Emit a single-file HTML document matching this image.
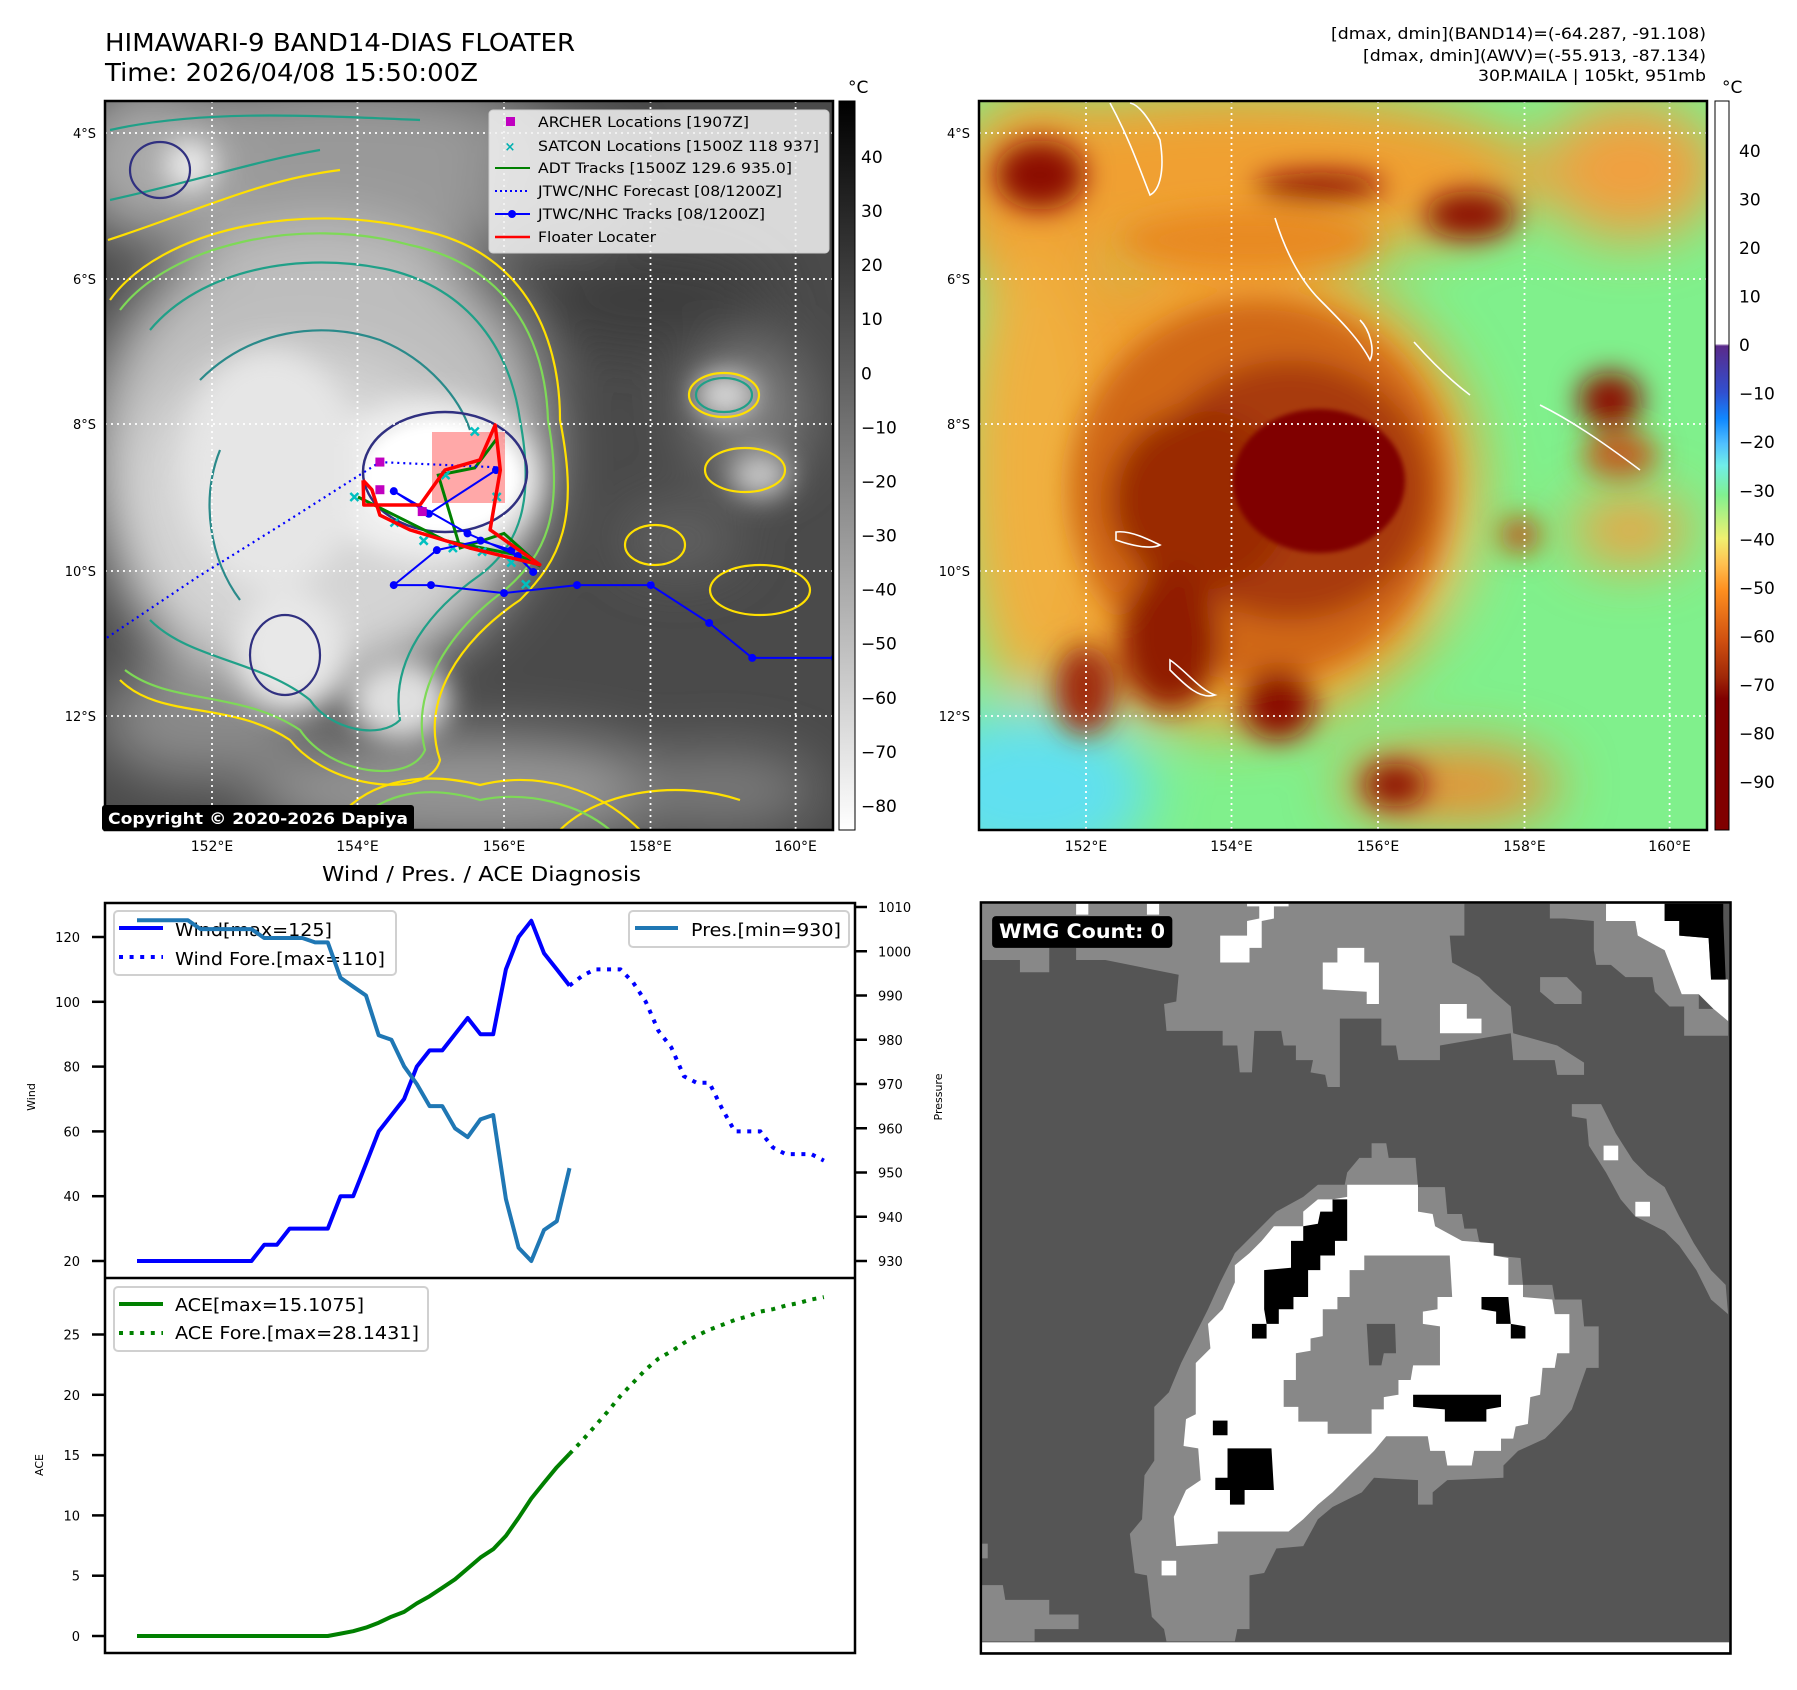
<!DOCTYPE html>
<html><head><meta charset="utf-8">
<style>
html,body{margin:0;padding:0;background:#fff;}
svg{display:block;font-family:"DejaVu Sans","Liberation Sans",sans-serif;}
</style></head>
<body>
<svg id="fig" xmlns="http://www.w3.org/2000/svg" width="1797" height="1690" viewBox="0 0 1797 1690">
<defs>
  <filter id="b30" x="-50%" y="-50%" width="200%" height="200%"><feGaussianBlur stdDeviation="28"/></filter>
  <filter id="b15" x="-50%" y="-50%" width="200%" height="200%"><feGaussianBlur stdDeviation="14"/></filter>
  <filter id="b6" x="-50%" y="-50%" width="200%" height="200%"><feGaussianBlur stdDeviation="5"/></filter>
  <filter id="b3" x="-50%" y="-50%" width="200%" height="200%"><feGaussianBlur stdDeviation="2.5"/></filter>
  <clipPath id="clipL"><rect x="105" y="101" width="728" height="729"/></clipPath>
  <clipPath id="clipR"><rect x="979" y="101" width="728" height="729"/></clipPath>
  <linearGradient id="cbGray" x1="0" y1="0" x2="0" y2="1">
    <stop offset="0" stop-color="#000"/><stop offset="1" stop-color="#fff"/>
  </linearGradient>
  <linearGradient id="cbColor" x1="0" y1="0" x2="0" y2="1">
    <stop offset="0" stop-color="#ffffff"/>
    <stop offset="0.333" stop-color="#ffffff"/>
    <stop offset="0.336" stop-color="#5a2a8a"/>
    <stop offset="0.40" stop-color="#3050d0"/>
    <stop offset="0.436" stop-color="#1088ff"/>
    <stop offset="0.47" stop-color="#50c0ff"/>
    <stop offset="0.50" stop-color="#70eee8"/>
    <stop offset="0.54" stop-color="#80f090"/>
    <stop offset="0.60" stop-color="#f0f070"/>
    <stop offset="0.635" stop-color="#ffc050"/>
    <stop offset="0.67" stop-color="#ff9020"/>
    <stop offset="0.74" stop-color="#d05010"/>
    <stop offset="0.79" stop-color="#a02808"/>
    <stop offset="0.82" stop-color="#800000"/>
    <stop offset="1" stop-color="#800000"/>
  </linearGradient>
</defs>

<!-- Titles -->
<text x="105" y="51" font-size="25" textLength="470" lengthAdjust="spacingAndGlyphs">HIMAWARI-9 BAND14-DIAS FLOATER</text>
<text x="105" y="81" font-size="25" textLength="373" lengthAdjust="spacingAndGlyphs">Time: 2026/04/08 15:50:00Z</text>
<g font-size="16" text-anchor="end">
  <text x="1706" y="39" textLength="375" lengthAdjust="spacingAndGlyphs">[dmax, dmin](BAND14)=(-64.287, -91.108)</text>
  <text x="1706" y="61" textLength="343" lengthAdjust="spacingAndGlyphs">[dmax, dmin](AWV)=(-55.913, -87.134)</text>
  <text x="1706" y="81" textLength="228" lengthAdjust="spacingAndGlyphs">30P.MAILA | 105kt, 951mb</text>
</g>

<!-- ============ LEFT MAP ============ -->
<g clip-path="url(#clipL)">
  <rect x="105" y="101" width="728" height="729" fill="#4a4a4a"/>
  <g filter="url(#b30)">
    <ellipse cx="340" cy="170" rx="260" ry="90" fill="#999"/>
    <ellipse cx="150" cy="160" rx="80" ry="80" fill="#a8a8a8"/>
    <ellipse cx="320" cy="450" rx="230" ry="230" fill="#bdbdbd"/>
    <ellipse cx="300" cy="520" rx="190" ry="170" fill="#d4d4d4"/>
    <ellipse cx="560" cy="180" rx="70" ry="60" fill="#777"/>
    <ellipse cx="470" cy="790" rx="220" ry="55" fill="#959595"/>
    <ellipse cx="720" cy="790" rx="100" ry="40" fill="#7a7a7a"/>
    <ellipse cx="750" cy="410" rx="60" ry="70" fill="#7c7c7c"/>
    <ellipse cx="680" cy="540" rx="60" ry="30" fill="#666"/>
    <ellipse cx="200" cy="720" rx="100" ry="60" fill="#8a8a8a"/>
    <ellipse cx="650" cy="300" rx="120" ry="50" fill="#3c3c3c"/>
  </g>
  <g filter="url(#b15)">
    <ellipse cx="430" cy="480" rx="110" ry="80" fill="#f0f0f0"/>
    <ellipse cx="270" cy="470" rx="90" ry="120" fill="#e6e6e6"/>
    <ellipse cx="290" cy="650" rx="55" ry="60" fill="#e8e8e8"/>
    <ellipse cx="400" cy="700" rx="50" ry="40" fill="#e0e0e0"/>
    <ellipse cx="190" cy="165" rx="25" ry="25" fill="#eee"/>
    <ellipse cx="725" cy="395" rx="30" ry="22" fill="#ddd"/>
    <ellipse cx="760" cy="475" rx="30" ry="22" fill="#ccc"/>
  </g>
  <ellipse cx="440" cy="478" rx="78" ry="55" fill="#fff" filter="url(#b6)"/>
  <!-- contours -->
  <g fill="none" stroke-width="2.2">
    <path d="M110,300 C160,230 300,200 420,230 C520,250 560,330 560,420 C580,520 560,560 520,600 C460,640 420,700 440,760 C430,800 330,790 290,740 C230,700 160,720 120,680" stroke="#ffe000"/>
    <path d="M120,310 C170,245 300,215 410,245 C505,265 545,335 548,420 C565,515 545,555 505,590 C450,630 410,690 425,750 C410,785 330,775 300,730 C240,690 170,705 125,670" stroke="#7ed957"/>
    <path d="M150,330 C200,270 300,250 390,270 C470,290 510,350 520,420 C535,500 520,545 480,575 C430,610 390,660 400,720 C380,740 330,730 310,700 C260,660 190,660 150,620" stroke="#20a088"/>
    <path d="M200,380 C250,330 320,320 380,340 C430,360 460,400 470,430 M240,600 C210,560 200,500 220,450" stroke="#2a8a8a"/>
    <ellipse cx="445" cy="472" rx="82" ry="60" stroke="#303080" stroke-width="2.5"/>
    <path d="M110,130 C200,110 300,115 420,120 M110,200 C200,180 260,160 320,150" stroke="#20a088"/>
    <path d="M108,240 C200,210 260,180 340,170" stroke="#ffe000"/>
    <ellipse cx="724" cy="395" rx="35" ry="22" stroke="#ffe000"/>
    <ellipse cx="724" cy="395" rx="28" ry="17" stroke="#20a088"/>
    <ellipse cx="745" cy="470" rx="40" ry="22" stroke="#ffe000"/>
    <ellipse cx="760" cy="590" rx="50" ry="25" stroke="#ffe000"/>
    <ellipse cx="655" cy="545" rx="30" ry="20" stroke="#ffe000"/>
    <path d="M330,830 C360,780 420,770 480,785 C540,770 600,790 640,830 M560,830 C600,790 680,780 740,800" stroke="#ffe000"/>
    <path d="M350,830 C380,790 430,785 480,800 C530,790 580,805 610,830" stroke="#7ed957"/>
    <ellipse cx="160" cy="170" rx="30" ry="28" stroke="#303080"/>
    <ellipse cx="285" cy="655" rx="35" ry="40" stroke="#303080"/>
  </g>
  <!-- gridlines -->
  <g stroke="#fff" stroke-width="1.8" stroke-dasharray="2,4">
    <line x1="212" y1="101" x2="212" y2="830"/><line x1="357.5" y1="101" x2="357.5" y2="830"/>
    <line x1="504" y1="101" x2="504" y2="830"/><line x1="650.5" y1="101" x2="650.5" y2="830"/>
    <line x1="795.6" y1="101" x2="795.6" y2="830"/>
    <line x1="105" y1="133" x2="833" y2="133"/><line x1="105" y1="279" x2="833" y2="279"/>
    <line x1="105" y1="424" x2="833" y2="424"/><line x1="105" y1="571" x2="833" y2="571"/>
    <line x1="105" y1="716" x2="833" y2="716"/>
  </g>
  <rect x="432" y="432" width="73" height="71" fill="#ff6060" opacity="0.55"/>
  <g id="tracks"></g>
</g>
<rect x="105" y="101" width="728" height="729" fill="none" stroke="#000" stroke-width="2.5"/>
<rect x="102" y="805" width="312" height="26" rx="3" fill="#000"/>
<text x="108" y="824" font-size="16" font-weight="bold" fill="#fff" textLength="300" lengthAdjust="spacingAndGlyphs">Copyright © 2020-2026 Dapiya</text>

<!-- map legend -->
<g>
  <rect x="489" y="110" width="340" height="143" rx="4" fill="#f2f2f2" fill-opacity="0.85" stroke="#ccc"/>
  <rect x="506" y="117" width="9" height="9" fill="#c000c0"/>
  <text x="510" y="151" font-size="13" fill="#00b0b0" text-anchor="middle" font-weight="bold">×</text>
  <line x1="495" y1="168" x2="530" y2="168" stroke="#008000" stroke-width="2"/>
  <line x1="495" y1="191" x2="530" y2="191" stroke="#0000ff" stroke-width="2" stroke-dasharray="2,3"/>
  <line x1="495" y1="214" x2="530" y2="214" stroke="#0000ff" stroke-width="2"/><circle cx="512" cy="214" r="4" fill="#0000ff"/>
  <line x1="495" y1="237" x2="530" y2="237" stroke="#ff0000" stroke-width="2.5"/>
  <g font-size="14">
    <text x="538" y="127" textLength="211" lengthAdjust="spacingAndGlyphs">ARCHER Locations [1907Z]</text>
    <text x="538" y="151" textLength="281" lengthAdjust="spacingAndGlyphs">SATCON Locations [1500Z 118 937]</text>
    <text x="538" y="173" textLength="254" lengthAdjust="spacingAndGlyphs">ADT Tracks [1500Z 129.6 935.0]</text>
    <text x="538" y="196" textLength="244" lengthAdjust="spacingAndGlyphs">JTWC/NHC Forecast [08/1200Z]</text>
    <text x="538" y="219" textLength="227" lengthAdjust="spacingAndGlyphs">JTWC/NHC Tracks [08/1200Z]</text>
    <text x="538" y="242" textLength="118" lengthAdjust="spacingAndGlyphs">Floater Locater</text>
  </g>
</g>

<!-- left lat/lon labels -->
<g font-size="13" text-anchor="end">
  <text x="96" y="138">4°S</text><text x="96" y="284">6°S</text><text x="96" y="429">8°S</text>
  <text x="96" y="576">10°S</text><text x="96" y="721">12°S</text>
</g>
<g font-size="14" text-anchor="middle">
  <text x="212" y="851">152°E</text><text x="357.5" y="851">154°E</text><text x="504" y="851">156°E</text>
  <text x="650.5" y="851">158°E</text><text x="795.6" y="851">160°E</text>
</g>
<!-- left colorbar -->
<rect x="839" y="101" width="16" height="729" fill="url(#cbGray)" stroke="#000" stroke-width="1"/>
<text x="848" y="93" font-size="17">°C</text>
<g id="cbL" font-size="17"></g>

<!-- ============ RIGHT MAP ============ -->
<g clip-path="url(#clipR)">
  <rect x="979" y="101" width="728" height="729" fill="#80f08c"/>
  <g filter="url(#b30)">
    <ellipse cx="1030" cy="790" rx="120" ry="80" fill="#60e0f0"/>
    <ellipse cx="1240" cy="175" rx="300" ry="85" fill="#f0a030"/>
    <ellipse cx="1040" cy="200" rx="90" ry="110" fill="#f0a030"/>
    <ellipse cx="1630" cy="170" rx="90" ry="70" fill="#f0a040"/>
    <ellipse cx="1230" cy="490" rx="250" ry="240" fill="#f0a030"/>
    <ellipse cx="1030" cy="470" rx="70" ry="230" fill="#f0b040"/>
    <ellipse cx="1450" cy="785" rx="110" ry="40" fill="#e89030"/>
    <ellipse cx="1630" cy="530" rx="60" ry="35" fill="#f0a040"/>
    <ellipse cx="1430" cy="540" rx="30" ry="80" fill="#f0c060"/>
  </g>
  <g filter="url(#b15)">
    <ellipse cx="1260" cy="490" rx="190" ry="190" fill="#d06818"/>
    <ellipse cx="1250" cy="240" rx="130" ry="30" fill="#e88a20"/>
    <ellipse cx="1290" cy="490" rx="140" ry="130" fill="#a83a0a"/>
    <ellipse cx="1200" cy="500" rx="90" ry="90" fill="#9a2a06"/>
    <ellipse cx="1170" cy="640" rx="50" ry="70" fill="#901c04"/>
    <ellipse cx="1278" cy="705" rx="36" ry="35" fill="#8a1000"/>
    <ellipse cx="1085" cy="690" rx="30" ry="45" fill="#a02a08"/>
    <ellipse cx="1040" cy="175" rx="45" ry="35" fill="#8c0c00"/>
    <ellipse cx="1320" cy="186" rx="65" ry="14" fill="#8c0c00"/>
    <ellipse cx="1470" cy="215" rx="45" ry="24" fill="#8c1000"/>
    <ellipse cx="1610" cy="400" rx="32" ry="28" fill="#8c0c00"/>
    <ellipse cx="1620" cy="455" rx="38" ry="24" fill="#c06020"/>
    <ellipse cx="1395" cy="785" rx="32" ry="22" fill="#8c1000"/>
    <ellipse cx="1520" cy="535" rx="20" ry="18" fill="#c05010"/>
  </g>
  <ellipse cx="1319" cy="481" rx="86" ry="72" fill="#800000" filter="url(#b3)"/>
  <g stroke="#fff" stroke-width="1.8" stroke-dasharray="2,4">
    <line x1="1086" y1="101" x2="1086" y2="830"/><line x1="1231.5" y1="101" x2="1231.5" y2="830"/>
    <line x1="1378" y1="101" x2="1378" y2="830"/><line x1="1524.5" y1="101" x2="1524.5" y2="830"/>
    <line x1="1669.6" y1="101" x2="1669.6" y2="830"/>
    <line x1="979" y1="133" x2="1707" y2="133"/><line x1="979" y1="279" x2="1707" y2="279"/>
    <line x1="979" y1="424" x2="1707" y2="424"/><line x1="979" y1="571" x2="1707" y2="571"/>
    <line x1="979" y1="716" x2="1707" y2="716"/>
  </g>
  <g fill="none" stroke="#fff" stroke-width="1.6">
    <path d="M1110,103 C1130,140 1140,170 1150,195 C1160,190 1165,170 1160,140 C1150,120 1140,105 1130,103"/>
    <path d="M1275,218 C1285,250 1300,280 1320,300 C1340,320 1360,340 1370,360 C1375,350 1370,330 1360,320"/>
    <path d="M1414,342 C1430,360 1450,380 1470,395 C1480,400 1490,395"/>
    <path d="M1540,405 C1570,420 1600,440 1640,470"/>
    <path d="M1116,532 C1130,530 1150,540 1160,545 C1150,550 1130,545 1116,540 Z"/>
    <path d="M1170,660 C1185,670 1200,690 1215,695 C1200,700 1185,685 1170,670 Z"/>
  </g>
</g>
<rect x="979" y="101" width="728" height="729" fill="none" stroke="#000" stroke-width="2.5"/>
<g font-size="13" text-anchor="end">
  <text x="970" y="138">4°S</text><text x="970" y="284">6°S</text><text x="970" y="429">8°S</text>
  <text x="970" y="576">10°S</text><text x="970" y="721">12°S</text>
</g>
<g font-size="14" text-anchor="middle">
  <text x="1086" y="851">152°E</text><text x="1231.5" y="851">154°E</text><text x="1378" y="851">156°E</text>
  <text x="1524.5" y="851">158°E</text><text x="1669.6" y="851">160°E</text>
</g>
<rect x="1715" y="101" width="14" height="729" fill="url(#cbColor)" stroke="#000" stroke-width="1"/>
<text x="1722" y="93" font-size="17">°C</text>
<g id="cbR" font-size="17"></g>

<!-- ============ BOTTOM LEFT CHART ============ -->
<text x="322" y="881" font-size="20" textLength="319" lengthAdjust="spacingAndGlyphs">Wind / Pres. / ACE Diagnosis</text>
<g id="chart"></g>

<!-- ============ BOTTOM RIGHT WMG ============ -->
<svg x="976" y="899" width="757" height="757" viewBox="0 0 1550 1550">
  <rect x="10" y="7" width="1535" height="1538" fill="#555555"/>
  <g fill="#888888">
    <polygon points="10,10 1000,10 1000,75 970,75 975,130 1030,160 1060,190 1095,220 1100,275 1190,300 1245,335 1245,360 1190,360 1185,330 1100,330 1095,275 950,300 950,330 865,330 860,300 830,300 830,245 745,245 745,385 720,385 715,360 685,355 690,330 655,330 655,300 630,300 625,270 570,270 565,355 540,355 535,300 505,300 505,270 390,270 385,215 410,210 415,155 265,125 205,125 205,100 150,100 150,150 90,150 90,125 10,125"/>
    <polygon points="1175,10 1290,10 1290,45 1350,45 1355,75 1410,105 1445,195 1480,195 1480,225 1510,225 1540,250 1540,280 1450,280 1450,220 1420,220 1390,190 1385,160 1330,160 1300,135 1270,135 1265,105 1265,45 1205,40 1175,40"/>
    <polygon points="1155,160 1210,160 1240,190 1240,215 1185,215 1155,190"/>
    <polygon points="1220,420 1280,420 1310,480 1345,535 1375,565 1410,590 1440,650 1470,705 1505,760 1535,790 1540,850 1505,820 1475,760 1440,710 1410,680 1350,650 1320,615 1290,560 1255,505 1250,450 1220,445"/>
    <polygon points="810,500 840,500 845,530 900,530 905,590 960,590 965,645 995,645 1000,675 1025,675 1030,700 1060,730 1115,735 1120,790 1180,790 1185,820 1240,820 1245,875 1275,875 1275,960 1250,960 1220,1045 1195,1075 1165,1105 1110,1130 1080,1160 1080,1185 965,1190 935,1215 935,1240 905,1240 905,1190 815,1185 790,1215 730,1245 700,1270 670,1325 615,1330 590,1380 560,1385 560,1495 535,1495 530,1520 390,1520 385,1495 360,1470 350,1385 325,1380 315,1300 340,1270 345,1180 365,1150 365,1040 395,1010 420,950 450,890 475,840 500,785 530,725 555,700 585,670 615,640 670,610 700,585 755,585 760,560 785,530 810,530"/>
    <polygon points="10,1405 55,1405 60,1435 150,1435 150,1465 210,1465 210,1495 120,1495 120,1520 10,1520"/>
    <rect x="10" y="1320" width="14" height="30"/>
  </g>
  <g fill="#ffffff">
    <rect x="205" y="10" width="25" height="22"/><rect x="350" y="10" width="25" height="22"/>
    <polygon points="555,10 640,10 640,15 610,15 610,40 585,45 585,100 560,100 560,130 500,130 500,75 555,75 555,45 580,40 580,15 555,15"/>
    <polygon points="740,100 795,100 795,130 825,130 825,215 800,215 800,190 710,185 710,130 740,130"/>
    <polygon points="950,215 1005,215 1005,245 1035,245 1035,275 950,275"/>
    <polygon points="1290,10 1410,10 1410,45 1440,45 1440,75 1500,80 1505,160 1540,165 1540,250 1510,225 1480,195 1445,195 1410,105 1355,75 1350,45 1290,45"/>
    <rect x="1285" y="505" width="30" height="30"/><rect x="1350" y="620" width="30" height="30"/><rect x="380" y="1355" width="30" height="30"/>
    <polygon points="760,585 905,585 905,640 935,645 940,670 995,700 1060,705 1060,730 1090,735 1090,790 1120,790 1120,815 1180,820 1185,850 1215,850 1215,930 1190,930 1185,960 1160,960 1155,1015 1135,1020 1130,1075 1105,1080 1100,1105 1075,1105 1075,1130 1020,1130 1015,1160 965,1160 960,1130 930,1130 925,1100 840,1100 815,1130 785,1160 760,1185 730,1215 700,1240 670,1270 640,1295 495,1295 495,1320 410,1325 405,1265 430,1210 460,1190 455,1125 425,1120 430,1065 450,1055 450,950 480,920 475,870 505,840 530,785 530,750 560,725 585,700 610,670 670,670 670,640 700,615 730,615 760,610"/>
    <rect x="10" y="1522" width="1532" height="20"/>
  </g>
  <polygon fill="#888888" points="795,730 970,730 975,815 945,815 945,840 915,845 915,870 950,875 950,955 895,955 890,985 865,985 865,1015 835,1020 835,1045 810,1045 810,1095 720,1095 720,1070 660,1070 660,1040 630,1040 630,985 655,985 655,930 685,925 685,900 710,895 710,840 740,840 740,815 765,815 765,760 795,760"/>
  <polygon fill="#555555" points="800,870 858,870 860,930 835,930 830,955 805,955"/>
  <g fill="#000000">
    <polygon points="1410,10 1530,10 1530,40 1535,165 1505,165 1500,80 1440,75 1440,45 1410,45"/>
    <polygon points="730,615 760,615 760,700 735,700 735,730 705,730 705,760 680,760 680,815 650,815 650,840 620,840 620,870 595,870 590,840 590,760 645,755 645,700 670,700 670,670 700,665 705,640 730,640"/>
    <rect x="565" y="870" width="30" height="30"/>
    <polygon points="1035,815 1090,815 1095,870 1125,875 1125,900 1095,900 1095,870 1065,870 1065,845 1035,840"/>
    <polygon points="895,1015 1075,1015 1075,1040 1045,1045 1045,1070 960,1070 960,1045 895,1040"/>
    <rect x="485" y="1068" width="30" height="30"/>
    <polygon points="515,1125 605,1125 610,1210 550,1210 550,1240 520,1240 520,1210 490,1210 490,1185 515,1185"/>
  </g>
  <rect x="10" y="7" width="1535" height="1538" fill="none" stroke="#000" stroke-width="5"/>
  <rect x="33" y="35" width="369" height="65" rx="8" fill="#000"/>
  <text x="47" y="80" font-size="40" font-weight="bold" fill="#fff" textLength="340" lengthAdjust="spacingAndGlyphs">WMG Count: 0</text>
</svg>

<script>
// ---------- chart data ----------
const wind = [20,20,20,20,20,20,20,20,20,20,25,25,30,30,30,30,40,40,50,60,65,70,80,85,85,90,95,90,90,110,120,125,115,110,105];
const windFore = [105,108,110,110,110,106,100,91,86,77,75,75,67,60,60,60,55,53,53,53,51];
const pres = [1007,1007,1007,1007,1007,1005,1005,1005,1005,1005,1003,1003,1003,1003,1002,1002,994,992,990,981,980,974,970,965,965,960,958,962,963,944,933,930,937,939,951];
const ace = [0,0,0,0,0,0,0,0,0,0,0,0,0,0,0,0,0.2,0.4,0.7,1.1,1.6,2.0,2.7,3.3,4.0,4.7,5.6,6.5,7.2,8.3,9.8,11.4,12.7,14.0,15.1];
const aceFore = [15.1,16.2,17.4,18.6,19.9,21.0,22.1,23.0,23.6,24.3,24.9,25.4,25.8,26.2,26.5,26.9,27.1,27.4,27.6,27.9,28.1];
const windTicks = [20,40,60,80,100,120];
const presTicks = [930,940,950,960,970,980,990,1000,1010];
const aceTicks = [0,5,10,15,20,25];
const irCbTicks = [40,30,20,10,0,-10,-20,-30,-40,-50,-60,-70,-80];
const awvCbTicks = [40,30,20,10,0,-10,-20,-30,-40,-50,-60,-70,-80,-90];
// ---------- map track data (lon, lat) ----------
const jtwcLon = [160.53,159.40,158.81,158.01,157.0,156.0,155.0,154.49,155.08,155.68,156.1,156.4,156.19,155.5,154.49,154.97,155.89];
const jtwcLat = [-11.21,-11.21,-10.73,-10.21,-10.21,-10.32,-10.21,-10.21,-9.73,-9.6,-9.73,-10.03,-9.81,-9.5,-8.92,-9.23,-8.63];
const foreLon = [155.88,154.3,153.0,151.8,150.55];
const foreLat = [-8.59,-8.52,-9.35,-10.1,-10.94];
const redLon = [154.07,154.08,154.85,155.19,155.67,155.88,155.95,155.81,156.49,155.53,154.71,154.30,154.19,154.07];
const redLat = [-8.77,-9.11,-9.11,-8.63,-8.49,-8.01,-8.63,-9.45,-9.93,-9.70,-9.45,-9.25,-8.90,-8.77];
const adtLon = [154.0,154.6,155.2,155.7,156.2,156.5,156.0,155.4,155.1,155.6,155.9];
const adtLat = [-9.0,-9.3,-9.6,-9.7,-9.8,-9.95,-9.5,-9.7,-8.7,-8.6,-8.2];
const archerLon = [154.3,154.3,154.88];
const archerLat = [-8.52,-8.9,-9.2];
const satconLon = [153.95,154.5,154.9,155.3,155.7,156.1,156.3,155.6,155.2,155.9];
const satconLat = [-9.0,-9.35,-9.6,-9.7,-9.75,-9.9,-10.2,-8.1,-8.7,-9.0];

const NS = 'http://www.w3.org/2000/svg';
function mk(tag, attrs, parent){ const e=document.createElementNS(NS,tag); for(const k in attrs) e.setAttribute(k,attrs[k]); parent.appendChild(e); return e; }

// axes functions
const xI = i => 137 + i*12.72;
const yW = v => 1261 - (v-20)*3.24;
const yP = p => 1261 - (p-930)*4.425;
const yA = v => 1636 - v*12.06;
const lonX = lon => 212 + (lon-152)*73;
const latY = lat => 133 + (-lat-4)*72.8;
const ptsStr = (xs, ys) => xs.map((x,i)=>x.toFixed(1)+','+ys[i].toFixed(1)).join(' ');

const chart = document.getElementById('chart');
let f1 = mk('rect',{x:105,y:903,width:750,height:375,fill:'#fff',stroke:'none'},chart);


let f2 = mk('rect',{x:105,y:1278,width:750,height:375,fill:'#fff',stroke:'none'},chart);



const gT = mk('g',{'font-size':13,'text-anchor':'end'},chart);


windTicks.forEach(v=>{ const y=yW(v); mk('line',{x1:92,y1:y,x2:105,y2:y,stroke:'#000','stroke-width':2.5},gT); const t=mk('text',{x:80,y:y+5},gT); t.textContent=v; });
const gP = mk('g',{'font-size':13},chart);


presTicks.forEach(v=>{ const y=yP(v); mk('line',{x1:855,y1:y,x2:867,y2:y,stroke:'#000','stroke-width':2.5},gP); const t=mk('text',{x:878,y:y+5},gP); t.textContent=v; });
const gA = mk('g',{'font-size':13,'text-anchor':'end'},chart);


aceTicks.forEach(v=>{ const y=yA(v); mk('line',{x1:92,y1:y,x2:105,y2:y,stroke:'#000','stroke-width':2.5},gA); const t=mk('text',{x:80,y:y+5},gA); t.textContent=v; });

let lbl = mk('text',{x:35,y:1097,'font-size':11,'text-anchor':'middle',transform:'rotate(-90 35 1097)'},chart); lbl.textContent='Wind';


lbl = mk('text',{x:942,y:1097,'font-size':11,'text-anchor':'middle',transform:'rotate(-90 942 1097)'},chart); lbl.textContent='Pressure';


lbl = mk('text',{x:43,y:1465,'font-size':11,'text-anchor':'middle',transform:'rotate(-90 43 1465)'},chart); lbl.textContent='ACE';



let ln = mk('polyline',{points:ptsStr(wind.map((v,i)=>xI(i)), wind.map(yW)),fill:'none',stroke:'#0000ff','stroke-width':4,'stroke-linejoin':'round'},chart);


const o = wind.length-1;
ln = mk('polyline',{points:ptsStr(windFore.map((v,i)=>xI(o+i)), windFore.map(yW)),fill:'none',stroke:'#0000ff','stroke-width':4,'stroke-dasharray':'4,6.6'},chart);


const lg1 = mk('g',{},chart);


mk('rect',{x:114,y:911,width:282,height:64,rx:4,fill:'#fff','fill-opacity':0.85,stroke:'#d0d0d0','stroke-width':2},lg1);
mk('line',{x1:119,y1:928,x2:163,y2:928,stroke:'#0000ff','stroke-width':4},lg1);
mk('line',{x1:119,y1:957,x2:163,y2:957,stroke:'#0000ff','stroke-width':4,'stroke-dasharray':'4,6.6'},lg1);
let tt = mk('text',{x:175,y:936,'font-size':18,textLength:157,lengthAdjust:'spacingAndGlyphs'},lg1); tt.textContent='Wind[max=125]';
tt = mk('text',{x:175,y:965,'font-size':18,textLength:210,lengthAdjust:'spacingAndGlyphs'},lg1); tt.textContent='Wind Fore.[max=110]';
ln = mk('polyline',{points:ptsStr(pres.map((v,i)=>xI(i)), pres.map(yP)),fill:'none',stroke:'#1f77b4','stroke-width':4,'stroke-linejoin':'round'},chart);


const lg2 = mk('g',{},chart);


mk('rect',{x:629,y:911,width:220,height:36,rx:4,fill:'#fff','fill-opacity':0.85,stroke:'#d0d0d0','stroke-width':2},lg2);
mk('line',{x1:635,y1:928,x2:678,y2:928,stroke:'#1f77b4','stroke-width':4},lg2);
tt = mk('text',{x:691,y:936,'font-size':18,textLength:150,lengthAdjust:'spacingAndGlyphs'},lg2); tt.textContent='Pres.[min=930]';
ln = mk('polyline',{points:ptsStr(ace.map((v,i)=>xI(i)), ace.map(yA)),fill:'none',stroke:'#008000','stroke-width':4,'stroke-linejoin':'round'},chart);


const oa = ace.length-1;
ln = mk('polyline',{points:ptsStr(aceFore.map((v,i)=>xI(oa+i)), aceFore.map(yA)),fill:'none',stroke:'#008000','stroke-width':4,'stroke-dasharray':'4,6.6'},chart);


const lg3 = mk('g',{},chart);


mk('rect',{x:114,y:1287,width:314,height:64,rx:4,fill:'#fff','fill-opacity':0.85,stroke:'#d0d0d0','stroke-width':2},lg3);
mk('line',{x1:119,y1:1304,x2:163,y2:1304,stroke:'#008000','stroke-width':4},lg3);
mk('line',{x1:119,y1:1333,x2:163,y2:1333,stroke:'#008000','stroke-width':4,'stroke-dasharray':'4,6.6'},lg3);
tt = mk('text',{x:175,y:1311,'font-size':18,textLength:189,lengthAdjust:'spacingAndGlyphs'},lg3); tt.textContent='ACE[max=15.1075]';
tt = mk('text',{x:175,y:1339,'font-size':18,textLength:244,lengthAdjust:'spacingAndGlyphs'},lg3); tt.textContent='ACE Fore.[max=28.1431]';
let sp = mk('rect',{x:105,y:903,width:750,height:750,fill:'none',stroke:'#000','stroke-width':2.5},chart);


sp = mk('line',{x1:105,y1:1278,x2:855,y2:1278,stroke:'#000','stroke-width':2.5},chart);



const cbL = document.getElementById('cbL');
irCbTicks.forEach(v=>{ const y = 157 + (40-v)*5.408; const t = mk('text',{x:861,y:y+6},cbL); t.textContent = v<0 ? '\u2212'+(-v) : v; });
const cbR = document.getElementById('cbR');
awvCbTicks.forEach(v=>{ const y = 151 + (40-v)*4.854; const t = mk('text',{x:1739,y:y+6},cbR); t.textContent = v<0 ? '\u2212'+(-v) : v; });

const tr = document.getElementById('tracks');
ln = mk('polyline',{points:ptsStr(adtLon.map(lonX), adtLat.map(latY)),fill:'none',stroke:'#008000','stroke-width':3},tr);


satconLon.forEach((lon,i)=>{ const x=lonX(lon), y=latY(satconLat[i]);
  const m = mk('path',{d:`M${x-4},${y-4}L${x+4},${y+4}M${x-4},${y+4}L${x+4},${y-4}`,stroke:'#00c0c0','stroke-width':2.5},tr);
  
   });
ln = mk('polyline',{points:ptsStr(foreLon.map(lonX), foreLat.map(latY)),fill:'none',stroke:'#0000ff','stroke-width':2.2,'stroke-dasharray':'2,4'},tr);


ln = mk('polyline',{points:ptsStr(jtwcLon.map(lonX), jtwcLat.map(latY)),fill:'none',stroke:'#0000ff','stroke-width':2},tr);


jtwcLon.forEach((lon,i)=>{ const c = mk('circle',{cx:lonX(lon),cy:latY(jtwcLat[i]),r:4,fill:'#0000ff'},tr);
  
   });
ln = mk('polyline',{points:ptsStr(redLon.map(lonX), redLat.map(latY)),fill:'none',stroke:'#ff0000','stroke-width':3.5,'stroke-linejoin':'round'},tr);


archerLon.forEach((lon,i)=>{ const r = mk('rect',{x:lonX(lon)-4.5,y:latY(archerLat[i])-4.5,width:9,height:9,fill:'#c000c0'},tr);
  
   });
</script>
</body></html>
